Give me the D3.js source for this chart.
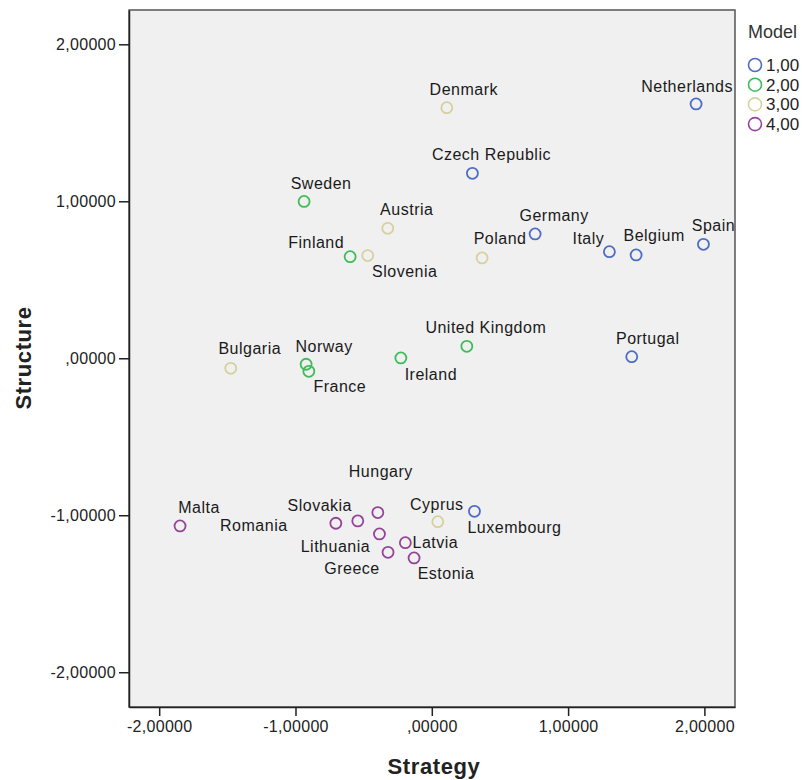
<!DOCTYPE html>
<html><head><meta charset="utf-8">
<script src="https://cdn.jsdelivr.net/npm/d3@7"></script>
<style>
html,body{margin:0;padding:0;background:#fff;}
text{font-family:"Liberation Sans",Arial,sans-serif;}
</style></head>
<body>
<svg id="chart" width="802" height="780"></svg>
<script>
// ---- data ----
const countries = ["Netherlands","Denmark","Czech Republic","Sweden","Austria","Germany","Finland","Slovenia","Poland","Italy","Belgium","Spain","United Kingdom","Portugal","Ireland","Norway","France","Bulgaria","Hungary","Malta","Romania","Slovakia","Cyprus","Luxembourg","Latvia","Lithuania","Greece","Estonia"];
const strategy  = [1.939,0.110,0.298,-0.937,-0.323,0.758,-0.599,-0.470,0.369,1.303,1.499,1.993,0.257,1.467,-0.227,-0.922,-0.902,-1.475,-0.396,-1.847,-0.704,-0.543,0.044,0.313,-0.194,-0.384,-0.321,-0.130];
const structure = [1.620,1.596,1.178,0.999,0.828,0.792,0.647,0.654,0.639,0.679,0.658,0.726,0.076,0.010,0.002,-0.038,-0.083,-0.064,-0.983,-1.068,-1.051,-1.036,-1.041,-0.975,-1.175,-1.119,-1.236,-1.272];
const model     = [1,3,1,2,3,1,2,3,3,1,1,1,2,1,2,2,2,3,4,4,4,4,3,1,4,4,4,4];
const modelLevels = [1,2,3,4];
const modelLabels = ["1,00","2,00","3,00","4,00"];
const tickValues = [-2,-1,0,1,2];
const tickLabels = ["-2,00000","-1,00000",",00000","1,00000","2,00000"];

// label placement (pixel offsets from marker: [dx, dy])
const labelOffsets = {
  "Netherlands":[-9,-12],"Denmark":[17,-13],"Czech Republic":[19,-13],"Sweden":[17,-12],
  "Austria":[19,-13],"Germany":[19,-13],"Finland":[-34,-9],"Slovenia":[37,21],
  "Poland":[18,-14],"Italy":[-21,-8],"Belgium":[18,-14],"Spain":[10,-13],
  "United Kingdom":[19,-13],"Portugal":[16,-13],"Ireland":[30,22],"Norway":[18,-12],
  "France":[31,21],"Bulgaria":[19,-14],"Hungary":[3,-36],"Malta":[19,-13],
  "Romania":[-82,8],"Slovakia":[-38,-10],"Cyprus":[-1,-12],"Luxembourg":[40,22],
  "Latvia":[30,5],"Lithuania":[-44,18],"Greece":[-36,22],"Estonia":[32,21]
};

const points = countries.map((c,i)=>({name:c,x:strategy[i],y:structure[i],m:model[i]}));

// ---- layout ----
const svg = d3.select("#chart");
const L=129, R=735, T=10, B=707;
const x = d3.scaleLinear().domain([-2.2215,2.2245]).range([L,R]);
const y = d3.scaleLinear().domain([-2.2215,2.2185]).range([B,T]);
const color = d3.scaleOrdinal().domain(modelLevels).range(["#4e6cc4","#3dbd57","#d6d19c","#93449a"]);

svg.append("rect").attr("x",L).attr("y",T).attr("width",R-L).attr("height",B-T)
  .attr("fill","#f0f0f0").attr("stroke","#555").attr("stroke-width",1.5);

const xAxis = d3.axisBottom(x).tickValues(tickValues).tickSize(9).tickSizeOuter(0).tickPadding(5)
  .tickFormat((d,i)=>tickLabels[i]);
const gx = svg.append("g").attr("transform",`translate(0,${B})`).call(xAxis);
const yAxis = d3.axisLeft(y).tickValues(tickValues).tickSize(10).tickSizeOuter(0).tickPadding(3)
  .tickFormat((d,i)=>tickLabels[i]);
const gy = svg.append("g").attr("transform",`translate(${L},0)`).call(yAxis);
[gx,gy].forEach(g=>{
  g.select(".domain").attr("stroke","#222").attr("stroke-width",1.5);
  g.selectAll(".tick line").attr("stroke","#222").attr("stroke-width",1.5);
  g.selectAll(".tick text").attr("font-size",16).attr("fill","#222")
   .attr("letter-spacing","0.3px")
   .attr("font-family","'Liberation Sans',Arial,sans-serif");
});

// axis titles
svg.append("text").attr("x",434).attr("y",774).attr("text-anchor","middle")
  .attr("font-size",22).attr("font-weight","bold").attr("letter-spacing","0.6px").attr("fill","#222").text("Strategy");
svg.append("text").attr("transform",`translate(31,358) rotate(-90)`).attr("text-anchor","middle")
  .attr("font-size",22).attr("font-weight","bold").attr("letter-spacing","0.6px").attr("fill","#222").text("Structure");

// markers
svg.append("g").selectAll("circle").data(points).join("circle")
  .attr("cx",d=>x(d.x)).attr("cy",d=>y(d.y)).attr("r",5.5)
  .attr("fill","none").attr("stroke",d=>color(d.m)).attr("stroke-width",1.8);

// labels
svg.append("g").selectAll("text").data(points).join("text")
  .attr("x",d=>x(d.x)+labelOffsets[d.name][0])
  .attr("y",d=>y(d.y)+labelOffsets[d.name][1])
  .attr("text-anchor","middle").attr("font-size",16).attr("letter-spacing","0.5px").attr("fill","#1a1a1a")
  .text(d=>d.name);

// legend
const lg = svg.append("g");
lg.append("text").attr("x",748).attr("y",38).attr("font-size",18).attr("fill","#333").text("Model");
const items = lg.selectAll("g.item").data(modelLevels).join("g").attr("class","item")
  .attr("transform",(d,i)=>`translate(755,${65+i*19.7})`);
items.append("circle").attr("r",6.5).attr("fill","none").attr("stroke",d=>color(d)).attr("stroke-width",1.6);
items.append("text").attr("x",11).attr("y",6).attr("font-size",17).attr("fill","#222")
  .text((d,i)=>modelLabels[i]);
</script>
</body></html>
